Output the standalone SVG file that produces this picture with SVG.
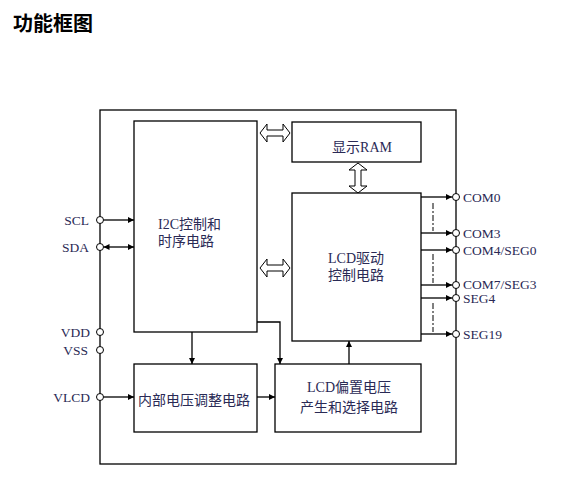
<svg xmlns="http://www.w3.org/2000/svg" width="566" height="488" viewBox="0 0 566 488">
<defs>
<marker id="ah" viewBox="0 0 10 10" refX="10" refY="5" markerWidth="8" markerHeight="6" markerUnits="userSpaceOnUse" orient="auto-start-reverse"><path d="M0,0 L10,5 L0,10 z" fill="#000"/></marker>
</defs>
<style>
.box{fill:#fff;stroke:#000;stroke-width:1.3}
.ln{fill:none;stroke:#000;stroke-width:1.3}
.dash{fill:none;stroke:#000;stroke-width:1;stroke-dasharray:6 2 2 2}
.pin{fill:#fff;stroke:#000;stroke-width:1}
.hol{fill:#fff;stroke:#000;stroke-width:1}
.t{font-family:"Liberation Serif","Noto Sans CJK SC",serif;font-size:14px;fill:#2a2a55}
.p{font-family:"Liberation Serif",serif;font-size:13.5px;fill:#2a2a55}
.title{font-family:"Noto Sans CJK SC",sans-serif;font-size:20px;font-weight:bold;fill:#000}
</style>
<rect width="566" height="488" fill="#fff"/>
<text class="title" x="13" y="31">功能框图</text>
<rect id="outer" class="ln" x="100" y="110" width="356" height="354"/>
<g id="connectors">
<line class="ln" x1="103.5" y1="220" x2="134" y2="220" marker-end="url(#ah)"/>
<line class="ln" x1="103.5" y1="247" x2="134" y2="247" marker-start="url(#ah)" marker-end="url(#ah)"/>
<line class="ln" x1="103.5" y1="397" x2="134" y2="397" marker-end="url(#ah)"/>
<line class="ln" x1="257" y1="397" x2="275" y2="397" marker-end="url(#ah)"/>
<line class="ln" x1="192" y1="332" x2="192" y2="364" marker-end="url(#ah)"/>
<polyline class="ln" points="257,322 280,322 280,364" marker-end="url(#ah)"/>
<line class="ln" x1="349" y1="364" x2="349" y2="341" marker-end="url(#ah)"/>
<line class="ln" x1="421" y1="197" x2="452" y2="197" marker-end="url(#ah)"/>
<line class="ln" x1="421" y1="233" x2="452" y2="233" marker-end="url(#ah)"/>
<line class="ln" x1="421" y1="250" x2="452" y2="250" marker-end="url(#ah)"/>
<line class="ln" x1="421" y1="285" x2="452" y2="285" marker-end="url(#ah)"/>
<line class="ln" x1="421" y1="298" x2="452" y2="298" marker-end="url(#ah)"/>
<line class="ln" x1="421" y1="334" x2="452" y2="334" marker-end="url(#ah)"/>
<line class="dash" x1="433" y1="203" x2="433" y2="231"/>
<line class="dash" x1="433" y1="254" x2="433" y2="283"/>
<line class="dash" x1="433" y1="303" x2="433" y2="332"/>
<polygon class="hol" points="260,133 267,124 267,130 283,130 283,124 290,133 283,142 283,136 267,136 267,142"/>
<polygon class="hol" points="260,268 267,259 267,265 283,265 283,259 290,268 283,277 283,271 267,271 267,277"/>
<polygon class="hol" points="358,163 367,170 361,170 361,186 367,186 358,193 349,186 355,186 355,170 349,170"/>
</g>
<g id="i2c"><rect class="box" x="134" y="121" width="123" height="211"/>
<text class="t" x="158" y="229">I2C控制和</text><text class="t" x="158" y="246">时序电路</text></g>
<g id="ram"><rect class="box" x="292" y="122" width="129" height="40"/>
<text class="t" x="362" y="152" text-anchor="middle">显示RAM</text></g>
<g id="lcddrv"><rect class="box" x="292" y="193" width="129" height="148"/>
<text class="t" x="356" y="263" text-anchor="middle">LCD驱动</text><text class="t" x="356" y="280" text-anchor="middle">控制电路</text></g>
<g id="vreg"><rect class="box" x="134" y="364" width="123" height="68"/>
<text class="t" x="194" y="405" text-anchor="middle">内部电压调整电路</text></g>
<g id="bias"><rect class="box" x="275" y="364" width="146" height="68"/>
<text class="t" x="349" y="392" text-anchor="middle">LCD偏置电压</text><text class="t" x="349" y="412" text-anchor="middle">产生和选择电路</text></g>
<g id="pins-left">
<circle class="pin" cx="100" cy="220" r="3.5"/><text class="p" x="89" y="225" text-anchor="end">SCL</text>
<circle class="pin" cx="100" cy="247" r="3.5"/><text class="p" x="89" y="252" text-anchor="end">SDA</text>
<circle class="pin" cx="100" cy="332" r="3.5"/><text class="p" x="90" y="337" text-anchor="end">VDD</text>
<circle class="pin" cx="100" cy="350" r="3.5"/><text class="p" x="88" y="355" text-anchor="end">VSS</text>
<circle class="pin" cx="100" cy="397" r="3.5"/><text class="p" x="90" y="402" text-anchor="end">VLCD</text>
</g>
<g id="pins-right">
<circle class="pin" cx="456" cy="197" r="3.5"/><text class="p" x="463" y="202">COM0</text>
<circle class="pin" cx="456" cy="233" r="3.5"/><text class="p" x="463" y="238">COM3</text>
<circle class="pin" cx="456" cy="250" r="3.5"/><text class="p" x="463" y="255">COM4/SEG0</text>
<circle class="pin" cx="456" cy="285" r="3.5"/><text class="p" x="463" y="289">COM7/SEG3</text>
<circle class="pin" cx="456" cy="298" r="3.5"/><text class="p" x="463" y="303">SEG4</text>
<circle class="pin" cx="456" cy="334" r="3.5"/><text class="p" x="463" y="339">SEG19</text>
</g>
</svg>
